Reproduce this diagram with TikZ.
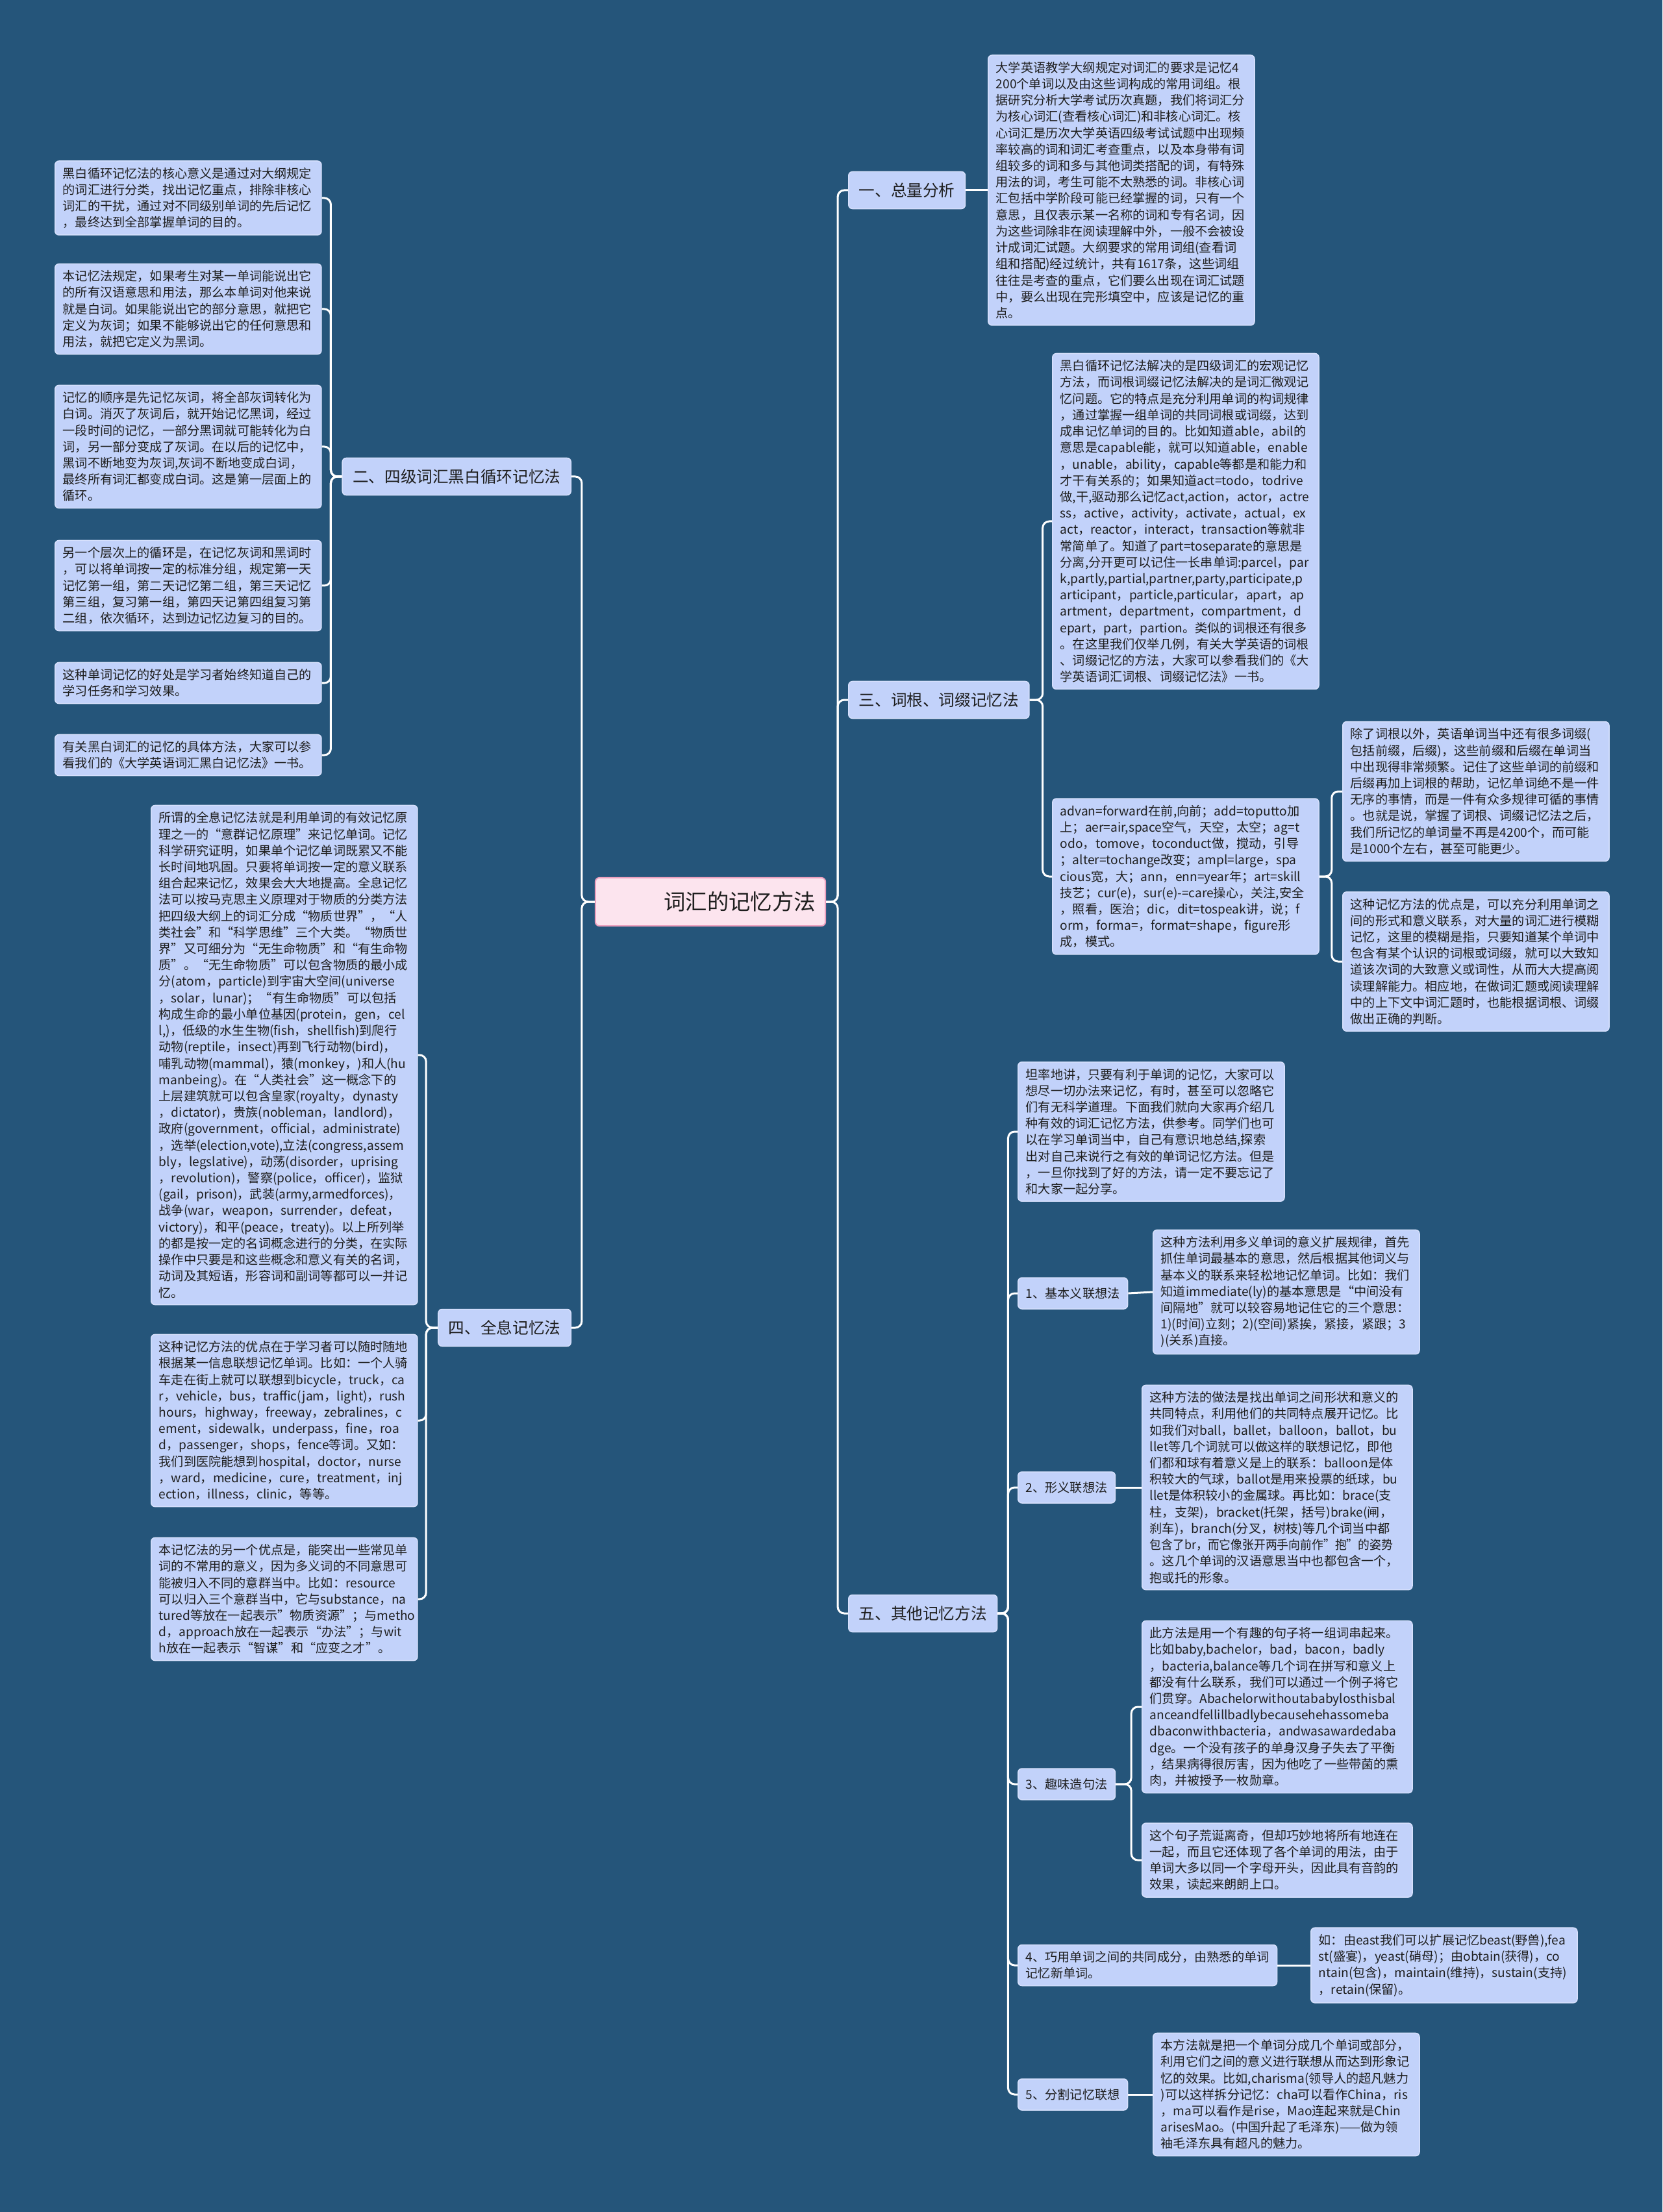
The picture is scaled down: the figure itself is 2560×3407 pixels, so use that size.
\documentclass[tikz,border=0pt]{standalone}
\usepackage{fontspec}
\setmainfont{Noto Sans CJK SC}
\usepackage{graphicx}
\usepackage{tikz}
\definecolor{mapbg}{RGB}{37, 85, 122}
\definecolor{mapbox}{RGB}{194, 210, 250}
\definecolor{mapedge}{RGB}{214, 224, 252}
\definecolor{maproot}{RGB}{252, 228, 238}
\definecolor{maprootedge}{RGB}{236, 160, 190}
\definecolor{maptext}{RGB}{30, 30, 30}
\newcommand{\leaffont}{\fontsize{5.45pt}{7.17pt}\selectfont}
\newcommand{\branchfont}{\fontsize{7pt}{8.5pt}\selectfont}
\newcommand{\rootfont}{\fontsize{9.5pt}{11pt}\selectfont}
\hyphenpenalty=10000
\exhyphenpenalty=10000
\tikzset{
  leafbox/.style={
    rectangle, rounded corners=0.06cm,
    draw=mapedge, line width=0.015cm, fill=mapbox, text=maptext,
    font=\leaffont, align=left, text width=#1,
    inner xsep=0.12cm, inner ysep=0.1cm, anchor=west
  },
  leafbox/.default=3.86cm,
  link/.style={draw=white, line width=0.03cm, rounded corners=0.1cm},
}

\begin{document}
\begin{tikzpicture}[
  x=0.01cm, y=-0.01cm,
  rootbox/.style={
    rectangle, rounded corners=0.06cm,
    draw=maprootedge, line width=0.02cm, fill=maproot, text=maptext,
    font=\rootfont, align=right, text width=3.24cm,
    inner xsep=0.15cm, minimum height=0.74cm},
  branchbox/.style={
    rectangle, rounded corners=0.06cm,
    draw=mapedge, line width=0.015cm, fill=mapbox, text=maptext,
    font=\branchfont, inner xsep=0.16cm, minimum height=0.57cm},
  subbox/.style={
    rectangle, rounded corners=0.06cm,
    draw=mapedge, line width=0.015cm, fill=mapbox, text=maptext,
    font=\leaffont, align=left, inner xsep=0.12cm, inner ysep=0.1cm,
    minimum height=0.48cm, anchor=west}
]

% ── Canvas ────────────────────────────────────────────────
\fill[mapbg] (0,0) rectangle (2560,3407);
\useasboundingbox (0,0) rectangle (2560,3407);

% ── Root and Main Branches ────────────────────────────────
\node[rootbox] (root) at (1094, 1389) {词汇的记忆方法};
\node[branchbox, anchor=west] (b1) at (1306, 293)  {一、总量分析};
\node[branchbox, anchor=east] (b2) at (880, 734)   {二、四级词汇黑白循环记忆法};
\node[branchbox, anchor=west] (b3) at (1306, 1078) {三、词根、词缀记忆法};
\node[branchbox, anchor=east] (b4) at (880, 2045)  {四、全息记忆法};
\node[branchbox, anchor=west] (b5) at (1306, 2485) {五、其他记忆方法};

% ── 一、总量分析 ──────────────────────────────────────────
\node[leafbox] (a1) at (1521, 293) {大学英语教学大纲规定对词汇的要求是记忆4\\
200个单词以及由这些词构成的常用词组。根\\
据研究分析大学考试历次真题，我们将词汇分\\
为核心词汇(查看核心词汇)和非核心词汇。核\\
心词汇是历次大学英语四级考试试题中出现频\\
率较高的词和词汇考查重点，以及本身带有词\\
组较多的词和多与其他词类搭配的词，有特殊\\
用法的词，考生可能不太熟悉的词。非核心词\\
汇包括中学阶段可能已经掌握的词，只有一个\\
意思，且仅表示某一名称的词和专有名词，因\\
为这些词除非在阅读理解中外，一般不会被设\\
计成词汇试题。大纲要求的常用词组(查看词\\
组和搭配)经过统计，共有1617条，这些词组\\
往往是考查的重点，它们要么出现在词汇试题\\
中，要么出现在完形填空中，应该是记忆的重\\
点。};

% ── 二、黑白循环记忆法 ────────────────────────────────────
\node[leafbox] (l1) at (84, 305) {黑白循环记忆法的核心意义是通过对大纲规定\\
的词汇进行分类，找出记忆重点，排除非核心\\
词汇的干扰，通过对不同级别单词的先后记忆\\
，最终达到全部掌握单词的目的。};
\node[leafbox] (l2) at (84, 476) {本记忆法规定，如果考生对某一单词能说出它\\
的所有汉语意思和用法，那么本单词对他来说\\
就是白词。如果能说出它的部分意思，就把它\\
定义为灰词；如果不能够说出它的任何意思和\\
用法，就把它定义为黑词。};
\node[leafbox] (l3) at (84, 688) {记忆的顺序是先记忆灰词，将全部灰词转化为\\
白词。消灭了灰词后，就开始记忆黑词，经过\\
一段时间的记忆，一部分黑词就可能转化为白\\
词，另一部分变成了灰词。在以后的记忆中，\\
黑词不断地变为灰词,灰词不断地变成白词，\\
最终所有词汇都变成白词。这是第一层面上的\\
循环。};
\node[leafbox] (l4) at (84, 902) {另一个层次上的循环是，在记忆灰词和黑词时\\
，可以将单词按一定的标准分组，规定第一天\\
记忆第一组，第二天记忆第二组，第三天记忆\\
第三组，复习第一组，第四天记第四组复习第\\
二组，依次循环，达到边记忆边复习的目的。};
\node[leafbox] (l5) at (84, 1052) {这种单词记忆的好处是学习者始终知道自己的\\
学习任务和学习效果。};
\node[leafbox] (l6) at (84, 1163) {有关黑白词汇的记忆的具体方法，大家可以参\\
看我们的《大学英语词汇黑白记忆法》一书。};

% ── 三、词根、词缀记忆法 ──────────────────────────────────
\node[leafbox] (t1) at (1620, 803) {黑白循环记忆法解决的是四级词汇的宏观记忆\\
方法，而词根词缀记忆法解决的是词汇微观记\\
忆问题。它的特点是充分利用单词的构词规律\\
，通过掌握一组单词的共同词根或词缀，达到\\
成串记忆单词的目的。比如知道able，abil的\\
意思是capable能，就可以知道able，enable\\
，unable，ability，capable等都是和能力和\\
才干有关系的；如果知道act=todo，todrive\\
做,干,驱动那么记忆act,action，actor，actre\\
ss，active，activity，activate，actual，ex\\
act，reactor，interact，transaction等就非\\
常简单了。知道了part=toseparate的意思是\\
分离,分开更可以记住一长串单词:parcel，par\\
k,partly,partial,partner,party,participate,p\\
articipant，particle,particular，apart，ap\\
artment，department，compartment，d\\
epart，part，partion。类似的词根还有很多\\
。在这里我们仅举几例，有关大学英语的词根\\
、词缀记忆的方法，大家可以参看我们的《大\\
学英语词汇词根、词缀记忆法》一书。};
\node[leafbox] (t2) at (1620, 1350) {advan=forward在前,向前；add=toputto加\\
上；aer=air,space空气，天空，太空；ag=t\\
odo，tomove，toconduct做，搅动，引导\\
；alter=tochange改变；ampl=large，spa\\
cious宽，大；ann，enn=year年；art=skill\\
技艺；cur(e)，sur(e)-=care操心，关注,安全\\
，照看，医治；dic，dit=tospeak讲，说；f\\
orm，forma=，format=shape，figure形\\
成，模式。};
\node[leafbox] (u1) at (2067, 1219) {除了词根以外，英语单词当中还有很多词缀(\\
包括前缀，后缀)，这些前缀和后缀在单词当\\
中出现得非常频繁。记住了这些单词的前缀和\\
后缀再加上词根的帮助，记忆单词绝不是一件\\
无序的事情，而是一件有众多规律可循的事情\\
。也就是说，掌握了词根、词缀记忆法之后，\\
我们所记忆的单词量不再是4200个，而可能\\
是1000个左右，甚至可能更少。};
\node[leafbox] (u2) at (2067, 1481) {这种记忆方法的优点是，可以充分利用单词之\\
间的形式和意义联系，对大量的词汇进行模糊\\
记忆，这里的模糊是指，只要知道某个单词中\\
包含有某个认识的词根或词缀，就可以大致知\\
道该次词的大致意义或词性，从而大大提高阅\\
读理解能力。相应地，在做词汇题或阅读理解\\
中的上下文中词汇题时，也能根据词根、词缀\\
做出正确的判断。};

% ── 四、全息记忆法 ────────────────────────────────────────
\node[leafbox] (s1) at (232, 1625) {所谓的全息记忆法就是利用单词的有效记忆原\\
理之一的“意群记忆原理”来记忆单词。记忆\\
科学研究证明，如果单个记忆单词既累又不能\\
长时间地巩固。只要将单词按一定的意义联系\\
组合起来记忆，效果会大大地提高。全息记忆\\
法可以按马克思主义原理对于物质的分类方法\\
把四级大纲上的词汇分成“物质世界”，“人\\
类社会”和“科学思维”三个大类。“物质世\\
界”又可细分为“无生命物质”和“有生命物\\
质”。“无生命物质”可以包含物质的最小成\\
分(atom，particle)到宇宙大空间(universe\\
，solar，lunar)；“有生命物质”可以包括\\
构成生命的最小单位基因(protein，gen，cel\\
l,)，低级的水生生物(fish，shellfish)到爬行\\
动物(reptile，insect)再到飞行动物(bird)，\\
哺乳动物(mammal)，猿(monkey，)和人(hu\\
manbeing)。在“人类社会”这一概念下的\\
上层建筑就可以包含皇家(royalty，dynasty\\
，dictator)，贵族(nobleman，landlord)，\\
政府(government，official，administrate)\\
，选举(election,vote),立法(congress,assem\\
bly，legslative)，动荡(disorder，uprising\\
，revolution)，警察(police，officer)，监狱\\
(gail，prison)，武装(army,armedforces)，\\
战争(war，weapon，surrender，defeat，\\
victory)，和平(peace，treaty)。以上所列举\\
的都是按一定的名词概念进行的分类，在实际\\
操作中只要是和这些概念和意义有关的名词，\\
动词及其短语，形容词和副词等都可以一并记\\
忆。};
\node[leafbox] (s2) at (232, 2188) {这种记忆方法的优点在于学习者可以随时随地\\
根据某一信息联想记忆单词。比如：一个人骑\\
车走在街上就可以联想到bicycle，truck，ca\\
r，vehicle，bus，traffic(jam，light)，rush\\
hours，highway，freeway，zebralines，c\\
ement，sidewalk，underpass，fine，roa\\
d，passenger，shops，fence等词。又如：\\
我们到医院能想到hospital，doctor，nurse\\
，ward，medicine，cure，treatment，inj\\
ection，illness，clinic，等等。};
\node[leafbox] (s3) at (232, 2463) {本记忆法的另一个优点是，能突出一些常见单\\
词的不常用的意义，因为多义词的不同意思可\\
能被归入不同的意群当中。比如：resource\\
可以归入三个意群当中，它与substance，na\\
tured等放在一起表示"物质资源"；与metho\\
d，approach放在一起表示“办法”；与wit\\
h放在一起表示“智谋”和“应变之才”。};

% ── 五、其他记忆方法 ──────────────────────────────────────
\node[leafbox] (f0) at (1567, 1743) {坦率地讲，只要有利于单词的记忆，大家可以\\
想尽一切办法来记忆，有时，甚至可以忽略它\\
们有无科学道理。下面我们就向大家再介绍几\\
种有效的词汇记忆方法，供参考。同学们也可\\
以在学习单词当中，自己有意识地总结,探索\\
出对自己来说行之有效的单词记忆方法。但是\\
，一旦你找到了好的方法，请一定不要忘记了\\
和大家一起分享。};
\node[subbox] (f1) at (1567, 1992) {1、基本义联想法};
\node[subbox] (f2) at (1567, 2291) {2、形义联想法};
\node[subbox] (f3) at (1567, 2748) {3、趣味造句法};
\node[subbox] (f4) at (1567, 3027) {4、巧用单词之间的共同成分，由熟悉的单词\\记忆新单词。};
\node[subbox] (f5) at (1567, 3226) {5、分割记忆联想};

\node[leafbox] (g1) at (1775, 1990) {这种方法利用多义单词的意义扩展规律，首先\\
抓住单词最基本的意思，然后根据其他词义与\\
基本义的联系来轻松地记忆单词。比如：我们\\
知道immediate(ly)的基本意思是“中间没有\\
间隔地”就可以较容易地记住它的三个意思：\\
1)(时间)立刻；2)(空间)紧挨，紧接，紧跟；3\\
)(关系)直接。};
\node[leafbox=3.92cm] (g2) at (1758, 2291) {这种方法的做法是找出单词之间形状和意义的\\
共同特点，利用他们的共同特点展开记忆。比\\
如我们对ball，ballet，balloon，ballot，bu\\
llet等几个词就可以做这样的联想记忆，即他\\
们都和球有着意义是上的联系：balloon是体\\
积较大的气球，ballot是用来投票的纸球，bu\\
llet是体积较小的金属球。再比如：brace(支\\
柱，支架)，bracket(托架，括号)brake(闸，\\
刹车)，branch(分叉，树枝)等几个词当中都\\
\scalebox{0.93}[1]{包含了br，而它像张开两手向前作"抱"的姿势}\\
。这几个单词的汉语意思当中也都包含一个，\\
抱或托的形象。};
\node[leafbox=3.92cm] (g3a) at (1758, 2629) {此方法是用一个有趣的句子将一组词串起来。\\
比如baby,bachelor，bad，bacon，badly\\
，bacteria,balance等几个词在拼写和意义上\\
都没有什么联系，我们可以通过一个例子将它\\
们贯穿。Abachelorwithoutababylosthisbal\\
anceandfellillbadlybecausehehassomeba\\
dbaconwithbacteria，andwasawardedaba\\
dge。一个没有孩子的单身汉身子失去了平衡\\
，结果病得很厉害，因为他吃了一些带菌的熏\\
肉，并被授予一枚勋章。};
\node[leafbox=3.92cm] (g3b) at (1758, 2865) {这个句子荒诞离奇，但却巧妙地将所有地连在\\
一起，而且它还体现了各个单词的用法，由于\\
单词大多以同一个字母开头，因此具有音韵的\\
效果，读起来朗朗上口。};
\node[leafbox] (g4) at (2018, 3027) {如：由east我们可以扩展记忆beast(野兽),fea\\
st(盛宴)，yeast(硝母)；由obtain(获得)，co\\
ntain(包含)，maintain(维持)，sustain(支持)\\
，retain(保留)。};
\node[leafbox] (g5) at (1775, 3226) {本方法就是把一个单词分成几个单词或部分，\\
利用它们之间的意义进行联想从而达到形象记\\
忆的效果。比如,charisma(领导人的超凡魅力\\
)可以这样拆分记忆：cha可以看作China，ris\\
，ma可以看作是rise，Mao连起来就是Chin\\
arisesMao。(中国升起了毛泽东)——做为领\\
袖毛泽东具有超凡的魅力。};

% ── Links: Root to Branches ───────────────────────────────
\draw[link] (root.east) -- ++(18,0) |- (b1.west);
\draw[link] (root.east) -- ++(18,0) |- (b3.west);
\draw[link] (root.east) -- ++(18,0) |- (b5.west);
\draw[link] (root.west) -- ++(-20,0) |- (b2.east);
\draw[link] (root.west) -- ++(-20,0) |- (b4.east);

% ── Links: Branch 一 ──────────────────────────────────────
\draw[link] (b1.east) -- (a1.west);

% ── Links: Branch 二 ──────────────────────────────────────
\foreach \leaf in {l1, l2, l3, l4, l5, l6}
  \draw[link] (b2.west) -- ++(-17,0) |- (\leaf.east);

% ── Links: Branch 三 ──────────────────────────────────────
\draw[link] (b3.east) -- ++(20,0) |- (t1.west);
\draw[link] (b3.east) -- ++(20,0) |- (t2.west);
\draw[link] (t2.east) -- ++(19,0) |- (u1.west);
\draw[link] (t2.east) -- ++(19,0) |- (u2.west);

% ── Links: Branch 四 ──────────────────────────────────────
\foreach \leaf in {s1, s2, s3}
  \draw[link] (b4.west) -- ++(-18,0) |- (\leaf.east);

% ── Links: Branch 五 ──────────────────────────────────────
\foreach \leaf in {f0, f1, f2, f3, f4, f5}
  \draw[link] (b5.east) -- ++(16,0) |- (\leaf.west);
\draw[link] (f1.east) -- (g1.west);
\draw[link] (f2.east) -- (g2.west);
\draw[link] (f3.east) -- ++(24,0) |- (g3a.west);
\draw[link] (f3.east) -- ++(24,0) |- (g3b.west);
\draw[link] (f4.east) -- (g4.west);
\draw[link] (f5.east) -- (g5.west);

\end{tikzpicture}
\end{document}
